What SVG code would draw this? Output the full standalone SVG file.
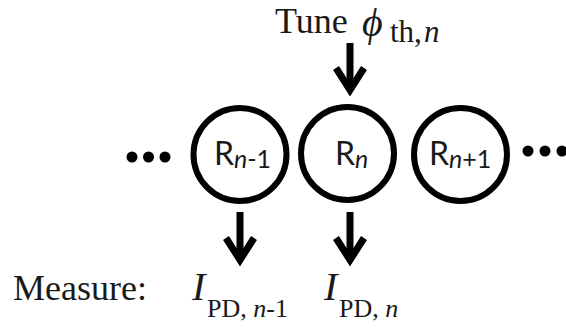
<svg xmlns="http://www.w3.org/2000/svg" width="566" height="329" viewBox="0 0 566 329">
<style>
.ring{fill:none;stroke:#000;stroke-width:6}
.shaft{stroke:#000;stroke-width:7;fill:none}
.dot{fill:#000}
.lbl{font-family:Lato,"Liberation Sans",sans-serif;font-size:32px;fill:#1a1a1a}
.sub{font-size:25px}
.it{font-style:italic}
.serif{font-family:"Liberation Serif","DejaVu Serif",serif;fill:#1a1a1a}
</style>
<defs>
<marker id="chev" markerUnits="userSpaceOnUse" viewBox="-40 -30 60 60" refX="0" refY="0" markerWidth="60" markerHeight="60" orient="auto" overflow="visible">
<path d="M -22,-14 L 0,0 L -22,14" fill="none" stroke="#000" stroke-width="7" stroke-linejoin="miter" stroke-miterlimit="10"/>
</marker>
</defs>
<rect width="566" height="329" fill="#fff"/>
<g id="dots-left">
<circle class="dot" cx="132" cy="157" r="5.5"/>
<circle class="dot" cx="148.5" cy="157" r="5.5"/>
<circle class="dot" cx="165" cy="157" r="5.5"/>
</g>
<g id="dots-right">
<circle class="dot" cx="528" cy="151" r="5.5"/>
<circle class="dot" cx="545" cy="151" r="5.5"/>
<circle class="dot" cx="562" cy="151" r="5.5"/>
</g>
<g id="R-n-1">
<circle class="ring" cx="240" cy="154.5" r="46.5"/>
<text class="lbl" x="214" y="165">R<tspan class="sub it" x="234" y="168">n</tspan><tspan class="sub">-1</tspan></text>
</g>
<g id="R-n">
<circle class="ring" cx="347.5" cy="153.5" r="46.5"/>
<text class="lbl" x="335" y="165">R<tspan class="sub it" x="355" y="168">n</tspan></text>
</g>
<g id="R-n+1">
<circle class="ring" cx="460.5" cy="154.5" r="46.5"/>
<text class="lbl" x="429" y="165">R<tspan class="sub it" x="449" y="168">n</tspan><tspan class="sub">+1</tspan></text>
</g>
<g id="tune">
<text class="serif" x="275" y="33" font-size="36">Tune <tspan x="362" y="36" font-style="italic" font-size="40">ϕ</tspan><tspan x="390" y="42" font-size="31">th,</tspan><tspan dx="2" font-size="31" font-style="italic">n</tspan></text>
</g>
<g id="measure">
<text class="serif" x="13" y="300" font-size="36">Measure:</text>
<text class="serif" x="192" y="300" font-size="40" font-style="italic">I<tspan x="207" y="317" font-size="26" font-style="normal">PD, </tspan><tspan font-size="26">n</tspan><tspan font-size="26" font-style="normal">-1</tspan></text>
<text class="serif" x="324" y="300" font-size="40" font-style="italic">I<tspan x="339" y="317" font-size="26" font-style="normal">PD, </tspan><tspan font-size="26">n</tspan></text>
</g>
<g id="connectors">
<line class="shaft" x1="350" y1="43" x2="350" y2="90" marker-end="url(#chev)"/>
<line class="shaft" x1="240" y1="212" x2="240" y2="260" marker-end="url(#chev)"/>
<line class="shaft" x1="350" y1="212" x2="350" y2="260" marker-end="url(#chev)"/>
</g>
</svg>
